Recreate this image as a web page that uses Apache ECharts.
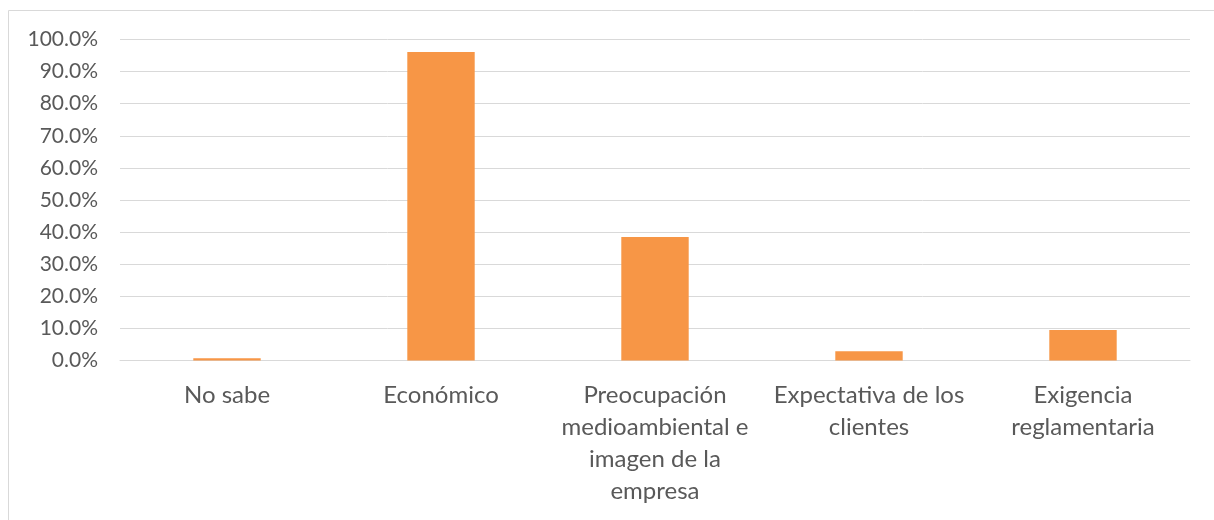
<!DOCTYPE html>
<html>
<head>
<meta charset="utf-8">
<script src="https://cdn.jsdelivr.net/npm/echarts@6/dist/echarts.min.js"></script>
<style>
  html, body { margin: 0; padding: 0; background: #fff; }
  #chart { width: 1214px; height: 520px; }
</style>
</head>
<body>
<div id="chart"></div>
<script>
// categories and values (percent)
var categories = [
  'No sabe',
  'Económico',
  'Preocupación\nmedioambiental e\nimagen de la\nempresa',
  'Expectativa de los\nclientes',
  'Exigencia\nreglamentaria'
]
var values = [0.7, 96.1, 38.5, 2.9, 9.5]

var chart = echarts.init(document.getElementById('chart'))
chart.setOption({
  animation: false,
  textStyle: { fontFamily: 'Lato, "Open Sans", sans-serif' },
  graphic: [
    {
      type: 'rect',
      shape: { x: 8.5, y: 10.5, width: 1220, height: 530 },
      style: { fill: 'none', stroke: '#d9d9d9', lineWidth: 1 },
      silent: true
    }
  ],
  grid: { left: 120, right: 24, top: 39.5, bottom: 159.5 },
  xAxis: {
    type: 'category',
    data: categories,
    axisLine: { lineStyle: { color: '#d9d9d9', width: 1 } },
    axisTick: { show: false },
    axisLabel: {
      interval: 0,
      color: '#595959',
      fontSize: 24,
      lineHeight: 32,
      margin: 19
    }
  },
  yAxis: {
    type: 'value',
    min: 0,
    max: 100,
    interval: 10,
    axisLine: { show: false },
    axisTick: { show: false },
    splitLine: { lineStyle: { color: '#d9d9d9', width: 1 } },
    axisLabel: {
      color: '#595959',
      fontSize: 21,
      margin: 22,
      formatter: function(v) { return v.toFixed(1) + '%' }
    }
  },
  series: [
    {
      type: 'bar',
      data: values,
      barWidth: '31.5%',
      itemStyle: { color: '#f79646' }
    }
  ]
})
</script>
</body>
</html>
